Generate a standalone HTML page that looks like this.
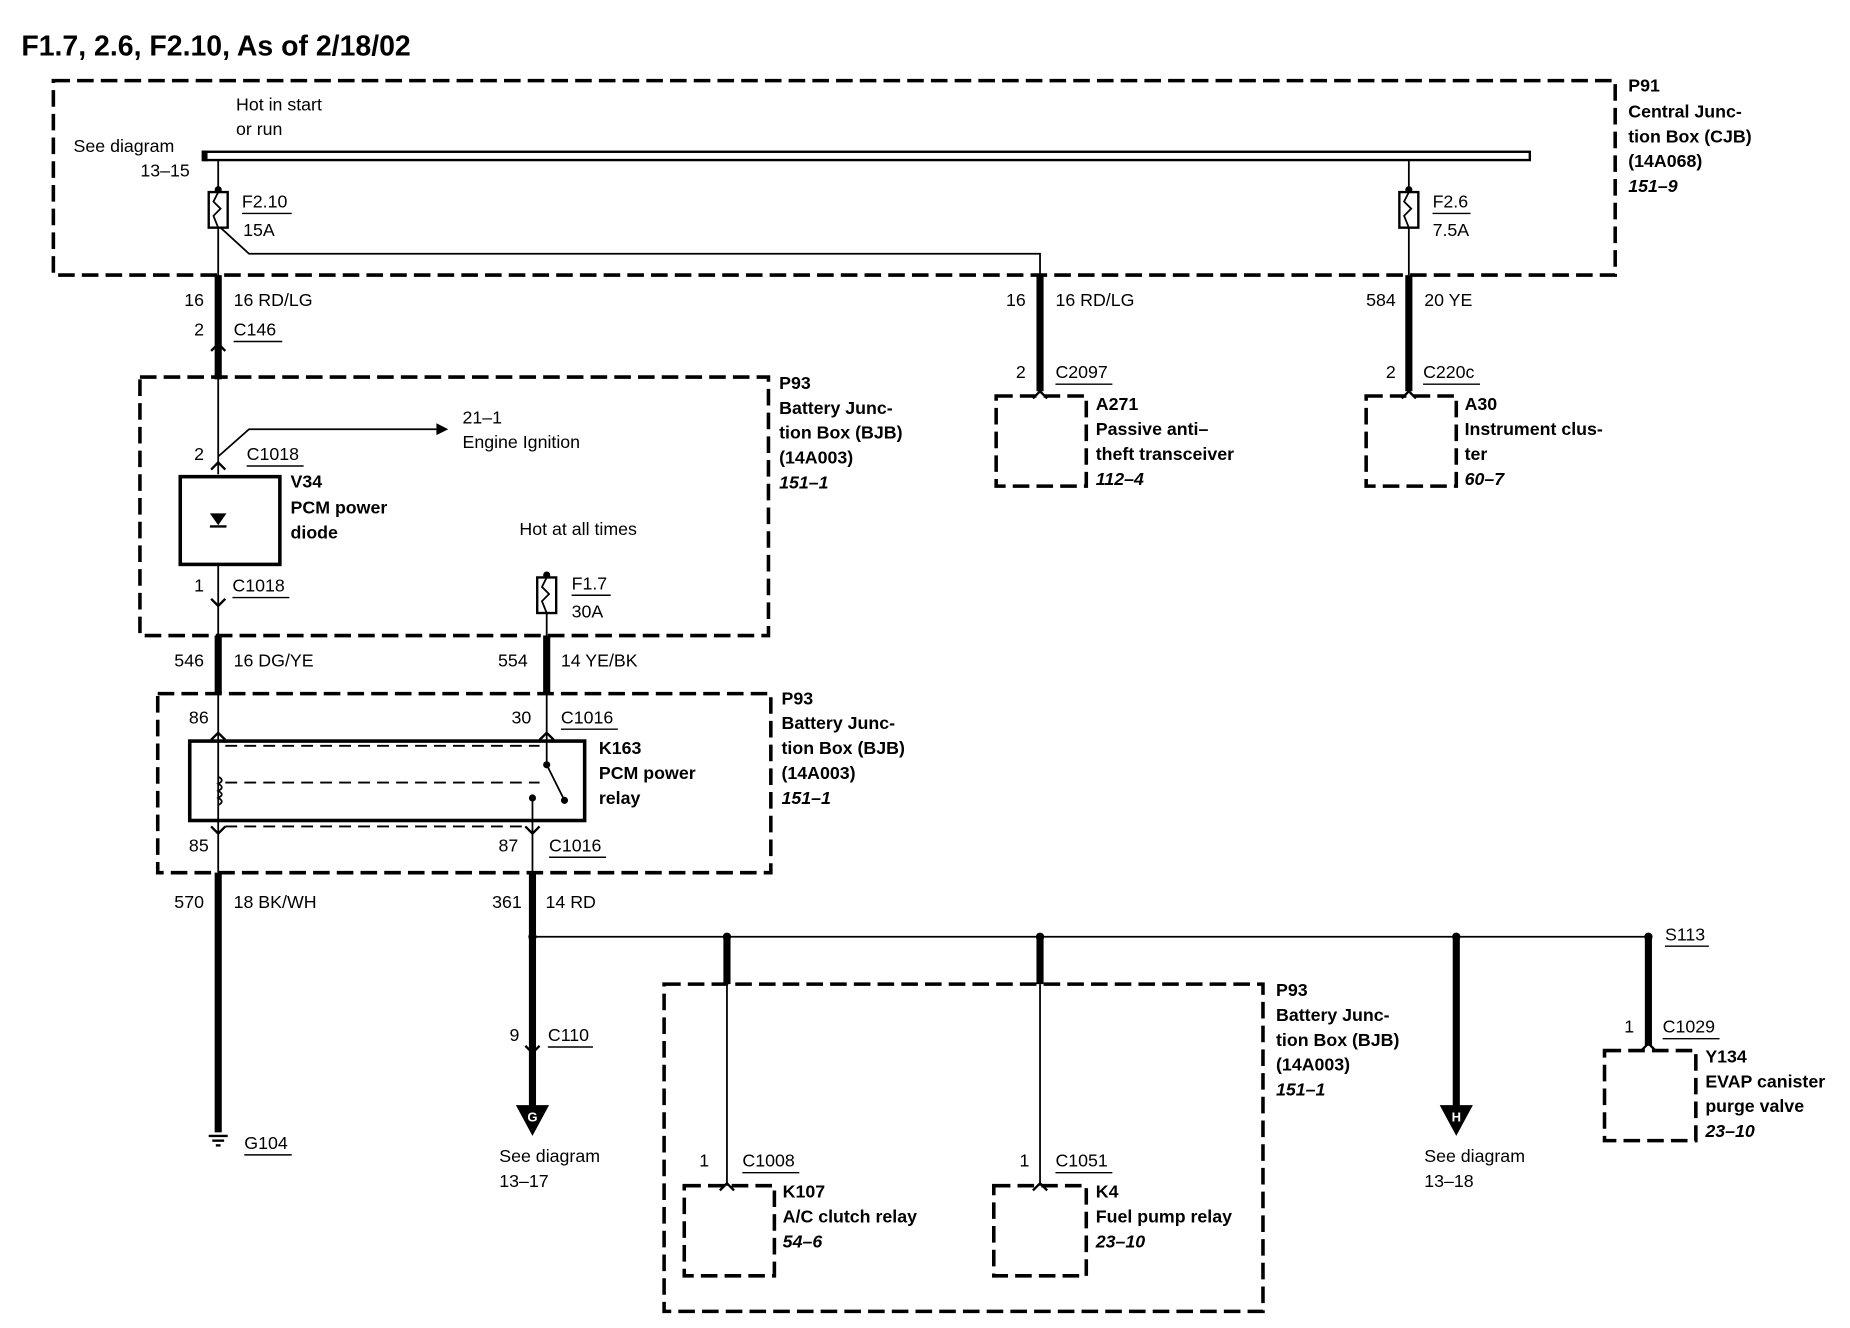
<!DOCTYPE html>
<html><head><meta charset="utf-8"><style>
html,body{margin:0;padding:0;background:#fff;}
svg{display:block;}
text{font-family:"Liberation Sans",sans-serif;font-size:15px;fill:#000;}
.b{font-weight:bold;}
.i{font-weight:bold;font-style:italic;}
.r{text-anchor:end;}
</style></head><body>
<svg width="1850" height="1328" viewBox="0 0 1560 1120" preserveAspectRatio="none" xmlns="http://www.w3.org/2000/svg">
<rect width="1560" height="1120" fill="#fff"/>
<text x="18" y="47" class="b" style="font-size:24px">F1.7, 2.6, F2.10, As of 2/18/02</text>
<g fill="none" stroke="#000" stroke-width="3" stroke-dasharray="14,6">
<rect x="45" y="68" width="1317" height="164"/>
<rect x="118" y="318" width="530" height="218"/>
<rect x="133" y="585" width="517" height="151"/>
<rect x="560" y="830" width="505" height="276"/>
<rect x="840" y="334" width="76" height="76"/>
<rect x="1152" y="334" width="76" height="76"/>
<rect x="577" y="1000" width="76" height="76"/>
<rect x="838" y="1000" width="78" height="76"/>
<rect x="1353" y="886" width="77" height="76"/>
</g>
<!-- bus bar -->
<rect x="172" y="128" width="1118" height="7" fill="#fff" stroke="#000" stroke-width="2"/>
<rect x="170" y="127" width="5" height="9" fill="#000"/>
<text x="199" y="93">Hot in start</text>
<text x="199" y="114">or run</text>
<text x="62" y="128">See diagram</text>
<text x="160" y="149" class="r">13–15</text>
<g fill="none" stroke="#000" stroke-width="1.5">
<!-- F2.10 -->
<line x1="184" y1="135" x2="184" y2="162"/>
<rect x="176" y="162" width="16" height="30" stroke-width="2"/>
<path d="M184 162 l-4 8 l6 6 l-6 6 l4 10"/>
<line x1="184" y1="192" x2="184" y2="400"/>
<path d="M186 192 L210 214 L877 214 L877 232"/>
<!-- F2.6 -->
<line x1="1188" y1="135" x2="1188" y2="162"/>
<rect x="1180" y="162" width="16" height="30" stroke-width="2"/>
<path d="M1188 162 l-4 8 l6 6 l-6 6 l4 10"/>
<line x1="1188" y1="192" x2="1188" y2="232"/>
<!-- ignition branch -->
<path d="M184 385 L210 362 L368 362"/>
<line x1="184" y1="476" x2="184" y2="536"/>
<!-- F1.7 -->
<line x1="461" y1="484" x2="461" y2="487"/>
<rect x="453" y="487" width="16" height="30" stroke-width="2"/>
<path d="M461 487 l-4 8 l6 6 l-6 6 l4 10"/>
<line x1="461" y1="517" x2="461" y2="536"/>
<!-- relay -->
<line x1="184" y1="585" x2="184" y2="736"/>
<line x1="461" y1="585" x2="461" y2="625"/>
<line x1="461" y1="625" x2="461" y2="645"/>
<line x1="461" y1="645" x2="476" y2="675"/>
<line x1="449" y1="673" x2="449" y2="736"/>
<path d="M184 655 q6 3 0 6 q6 3 0 6 q6 3 0 6 q6 3 0 6" />
<line x1="190" y1="660" x2="455" y2="660" stroke-dasharray="10,6"/>
<line x1="190" y1="629" x2="455" y2="629" stroke-dasharray="10,6"/>
<line x1="190" y1="697" x2="443" y2="697" stroke-dasharray="10,6"/>
<!-- bottom buses -->
<line x1="449" y1="790" x2="1390" y2="790"/>
<line x1="613" y1="830" x2="613" y2="1000"/>
<line x1="877" y1="830" x2="877" y2="1000"/>
</g>
<rect x="160" y="625" width="333" height="67" fill="none" stroke="#000" stroke-width="3"/>
<rect x="152" y="402" width="84" height="74" fill="none" stroke="#000" stroke-width="3"/>
<!-- diode -->
<polygon points="177,433 191,433 184,443" fill="#000"/>
<line x1="177" y1="444" x2="191" y2="444" stroke="#000" stroke-width="2"/>
<polygon points="368,357 378,362 368,367" fill="#000"/>
<!-- thick wires -->
<g stroke="#000" stroke-width="6" fill="none">
<line x1="184" y1="232" x2="184" y2="320"/>
<line x1="877" y1="232" x2="877" y2="330"/>
<line x1="1188" y1="232" x2="1188" y2="330"/>
<line x1="184" y1="536" x2="184" y2="585"/>
<line x1="461" y1="536" x2="461" y2="585"/>
<line x1="184" y1="736" x2="184" y2="955"/>
<line x1="449" y1="736" x2="449" y2="935"/>
<line x1="613" y1="790" x2="613" y2="830"/>
<line x1="877" y1="790" x2="877" y2="830"/>
<line x1="1228" y1="790" x2="1228" y2="935"/>
<line x1="1390" y1="790" x2="1390" y2="882"/>
</g>
<g fill="#000">
<circle cx="184" cy="160" r="3"/><circle cx="1188" cy="160" r="3"/><circle cx="461" cy="485" r="3"/>
<circle cx="449" cy="790" r="3.5"/><circle cx="613" cy="790" r="3.5"/><circle cx="877" cy="790" r="3.5"/><circle cx="1228" cy="790" r="3.5"/><circle cx="1390" cy="790" r="3.5"/>
<circle cx="461" cy="645" r="3"/><circle cx="476" cy="675" r="3"/><circle cx="449" cy="673" r="3"/>
</g>
<!-- connector chevrons -->
<g fill="none" stroke="#000" stroke-width="2">
<path d="M178 296 l6 -6 l6 6"/><path d="M178 396 l6 -6 l6 6"/><path d="M178 505 l6 6 l6 -6"/>
<path d="M871 336 l6 -6 l6 6"/><path d="M1182 336 l6 -6 l6 6"/>
<path d="M178 624 l6 -6 l6 6"/><path d="M455 624 l6 -6 l6 6"/>
<path d="M178 697 l6 6 l6 -6"/><path d="M443 697 l6 6 l6 -6"/>
<path d="M443 882 l6 6 l6 -6"/>
<path d="M607 1004 l6 -6 l6 6"/><path d="M871 1004 l6 -6 l6 6"/><path d="M1384 886 l6 -6 l6 6"/>
</g>
<!-- ground -->
<g stroke="#000" stroke-width="2"><line x1="176" y1="958" x2="192" y2="958"/><line x1="179" y1="962" x2="189" y2="962"/><line x1="182" y1="966" x2="186" y2="966"/></g>
<!-- arrows G, H -->
<polygon points="435,932 463,932 449,958" fill="#000"/>
<text x="449" y="946" style="fill:#fff;font-size:11px" text-anchor="middle" class="b">G</text>
<polygon points="1214,932 1242,932 1228,958" fill="#000"/>
<text x="1228" y="946" style="fill:#fff;font-size:11px" text-anchor="middle" class="b">H</text>
<!-- underlines -->
<g stroke="#000" stroke-width="1.2">
<line x1="204" y1="180" x2="246" y2="180"/><line x1="1208" y1="180" x2="1240" y2="180"/>
<line x1="197" y1="288" x2="238" y2="288"/><line x1="890" y1="324" x2="938" y2="324"/><line x1="1200" y1="324" x2="1248" y2="324"/>
<line x1="208" y1="393" x2="256" y2="393"/><line x1="196" y1="504" x2="244" y2="504"/><line x1="482" y1="502" x2="515" y2="502"/>
<line x1="473" y1="615" x2="521" y2="615"/><line x1="463" y1="723" x2="511" y2="723"/>
<line x1="206" y1="974" x2="246" y2="974"/><line x1="462" y1="883" x2="500" y2="883"/>
<line x1="1404" y1="798" x2="1441" y2="798"/><line x1="626" y1="989" x2="674" y2="989"/><line x1="890" y1="989" x2="938" y2="989"/><line x1="1402" y1="876" x2="1450" y2="876"/>
</g>
<text x="204" y="175">F2.10</text><text x="205" y="199">15A</text>
<text x="1208" y="175">F2.6</text><text x="1208" y="199">7.5A</text>
<text x="1373" y="77" class="b">P91</text><text x="1373" y="99" class="b">Central Junc-</text><text x="1373" y="120" class="b">tion Box (CJB)</text><text x="1373" y="141" class="b">(14A068)</text><text x="1373" y="162" class="i">151–9</text>
<text x="172" y="258" class="r">16</text><text x="197" y="258">16 RD/LG</text>
<text x="172" y="283" class="r">2</text><text x="197" y="283">C146</text>
<text x="865" y="258" class="r">16</text><text x="890" y="258">16 RD/LG</text>
<text x="865" y="319" class="r">2</text><text x="890" y="319">C2097</text>
<text x="924" y="346" class="b">A271</text><text x="924" y="367" class="b">Passive anti–</text><text x="924" y="388" class="b">theft transceiver</text><text x="924" y="409" class="i">112–4</text>
<text x="1177" y="258" class="r">584</text><text x="1201" y="258">20 YE</text>
<text x="1177" y="319" class="r">2</text><text x="1200" y="319">C220c</text>
<text x="1235" y="346" class="b">A30</text><text x="1235" y="367" class="b">Instrument clus-</text><text x="1235" y="388" class="b">ter</text><text x="1235" y="409" class="i">60–7</text>
<text x="657" y="328" class="b">P93</text><text x="657" y="349" class="b">Battery Junc-</text><text x="657" y="370" class="b">tion Box (BJB)</text><text x="657" y="391" class="b">(14A003)</text><text x="657" y="412" class="i">151–1</text>
<text x="172" y="388" class="r">2</text><text x="208" y="388">C1018</text>
<text x="390" y="357">21–1</text><text x="390" y="378">Engine Ignition</text>
<text x="245" y="411" class="b">V34</text><text x="245" y="433" class="b">PCM power</text><text x="245" y="454" class="b">diode</text>
<text x="172" y="499" class="r">1</text><text x="196" y="499">C1018</text>
<text x="438" y="451">Hot at all times</text>
<text x="482" y="497">F1.7</text><text x="482" y="521">30A</text>
<text x="172" y="562" class="r">546</text><text x="197" y="562">16 DG/YE</text>
<text x="445" y="562" class="r">554</text><text x="473" y="562">14 YE/BK</text>
<text x="659" y="594" class="b">P93</text><text x="659" y="615" class="b">Battery Junc-</text><text x="659" y="636" class="b">tion Box (BJB)</text><text x="659" y="657" class="b">(14A003)</text><text x="659" y="678" class="i">151–1</text>
<text x="176" y="610" class="r">86</text><text x="448" y="610" class="r">30</text><text x="473" y="610">C1016</text>
<text x="505" y="636" class="b">K163</text><text x="505" y="657" class="b">PCM power</text><text x="505" y="678" class="b">relay</text>
<text x="176" y="718" class="r">85</text><text x="437" y="718" class="r">87</text><text x="463" y="718">C1016</text>
<text x="172" y="766" class="r">570</text><text x="197" y="766">18 BK/WH</text>
<text x="440" y="766" class="r">361</text><text x="460" y="766">14 RD</text>
<text x="1404" y="793">S113</text>
<text x="206" y="969">G104</text>
<text x="438" y="878" class="r">9</text><text x="462" y="878">C110</text>
<text x="421" y="980">See diagram</text><text x="421" y="1001">13–17</text>
<text x="1201" y="980">See diagram</text><text x="1201" y="1001">13–18</text>
<text x="1076" y="840" class="b">P93</text><text x="1076" y="861" class="b">Battery Junc-</text><text x="1076" y="882" class="b">tion Box (BJB)</text><text x="1076" y="903" class="b">(14A003)</text><text x="1076" y="924" class="i">151–1</text>
<text x="598" y="984" class="r">1</text><text x="626" y="984">C1008</text>
<text x="660" y="1010" class="b">K107</text><text x="660" y="1031" class="b">A/C clutch relay</text><text x="660" y="1052" class="i">54–6</text>
<text x="868" y="984" class="r">1</text><text x="890" y="984">C1051</text>
<text x="924" y="1010" class="b">K4</text><text x="924" y="1031" class="b">Fuel pump relay</text><text x="924" y="1052" class="i">23–10</text>
<text x="1378" y="871" class="r">1</text><text x="1402" y="871">C1029</text>
<text x="1438" y="896" class="b">Y134</text><text x="1438" y="917" class="b">EVAP canister</text><text x="1438" y="938" class="b">purge valve</text><text x="1438" y="959" class="i">23–10</text>
</svg>
</body></html>
